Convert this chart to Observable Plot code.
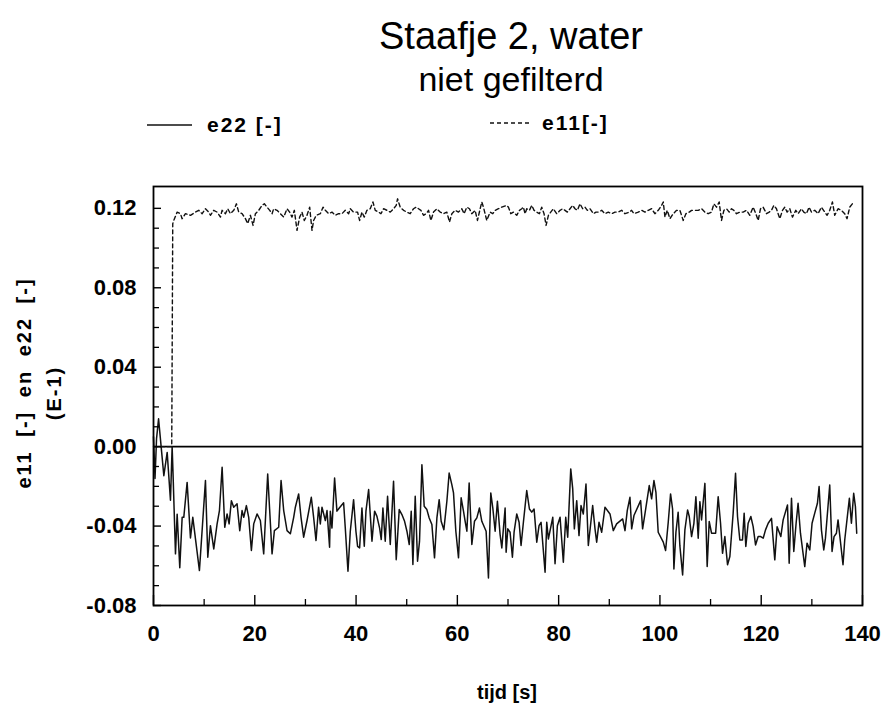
<!DOCTYPE html>
<html><head><meta charset="utf-8">
<script src="https://cdn.jsdelivr.net/npm/d3@7"></script>
<script src="https://cdn.jsdelivr.net/npm/@observablehq/plot@0.6"></script>
<style>
body{margin:0;background:#fff;}
#wrap{position:relative;width:886px;height:706px;font-family:"Liberation Sans",Arial,Helvetica,sans-serif;color:#000;overflow:hidden;}
.t{position:absolute;white-space:nowrap;line-height:1;}
#wrap svg{position:absolute;left:0;top:0;}
</style></head><body><div id="wrap"></div>
<script>
// ---- chart texts ----
const titleText = "Staafje 2, water";
const subtitleText = "niet gefilterd";
const seriesNames = ["e22 [-]", "e11[-]"];
const yLabelLine1 = "e11 [-] en e22 [-]";
const yLabelLine2 = "(E-1)";
const xLabel = "tijd [s]";

// ---- tick values ----
const yTickLabels = [-0.08, -0.04, 0.00, 0.04, 0.08, 0.12];
const yMinorTicks = [-0.07, -0.06, -0.05, -0.03, -0.02, -0.01, 0.01, 0.02, 0.03, 0.05, 0.06, 0.07, 0.09, 0.10, 0.11];
const xTickLabels = [0, 20, 40, 60, 80, 100, 120, 140];
const xMinorTicks = [10, 30, 50, 70, 90, 110, 130];

// ---- series e22 (solid) ----
const e22Time = [0.00,0.30,0.60,1.00,2.04,2.70,3.35,3.68,3.88,4.34,4.67,5.19,5.66,5.98,6.64,7.30,7.76,9.07,10.26,10.72,11.24,11.90,12.56,13.02,13.55,14.07,14.53,14.93,15.38,15.84,16.50,17.03,17.49,17.82,18.34,18.80,19.33,19.79,20.45,21.10,21.76,22.55,23.41,23.87,24.72,25.19,25.71,26.37,27.02,27.68,28.01,28.66,29.13,29.65,30.32,31.16,31.62,32.09,32.60,32.94,33.27,33.93,34.26,34.77,
34.91,35.24,35.76,36.22,36.69,37.54,37.87,38.40,38.86,39.51,39.97,40.30,40.70,41.16,41.62,41.95,42.48,43.14,43.66,44.12,44.65,44.97,45.30,45.76,46.22,46.75,47.40,47.93,48.52,49.05,49.58,50.04,50.50,50.89,51.22,51.68,52.14,52.53,53.00,53.45,53.98,54.44,54.97,55.49,55.96,56.41,56.80,57.34,57.93,58.38,58.91,59.24,59.70,60.23,60.75,61.21,61.54,61.88,62.33,62.86,63.38,63.85,64.36,64.83,65.68,66.14,66.60,67.00,67.46,67.91,68.44,68.78,69.43,
69.63,69.96,70.41,70.87,71.20,71.73,72.19,72.58,73.04,73.70,74.23,74.69,75.15,75.68,76.13,76.53,77.32,77.65,77.97,78.84,79.29,79.75,80.28,80.93,81.40,81.79,82.39,82.78,83.10,83.57,84.02,84.42,84.87,85.40,85.86,86.72,87.18,87.51,87.97,88.50,89.15,90.14,90.79,91.45,92.64,93.10,93.55,94.08,94.42,94.87,96.19,96.58,97.04,97.89,98.36,98.82,99.21,99.66,100.66,101.12,101.64,102.10,102.50,102.76,103.16,103.60,103.94,104.48,
104.93,105.46,105.79,106.25,106.71,107.10,107.56,107.89,108.22,108.88,109.33,109.73,110.19,111.00,111.50,111.97,112.36,112.82,113.35,113.81,114.46,114.93,115.32,115.78,116.30,116.63,116.96,117.42,117.95,118.41,118.88,119.40,119.90,120.39,120.85,121.38,122.03,122.68,123.14,123.87,124.33,125.19,125.52,125.98,126.43,126.89,127.28,127.75,128.60,129.05,129.59,130.04,130.57,131.10,131.43,131.89,132.35,132.68,133.53,133.99,134.38,134.85,135.17,136.15,136.49,137.41,137.81,138.26,138.60,138.86];
const e22Value = [0.0050,-0.0160,0.0040,0.0140,-0.0146,-0.0029,-0.0270,0.0000,-0.0154,-0.0540,-0.0340,-0.0610,-0.0356,-0.0356,-0.0180,-0.0460,-0.0356,-0.0624,-0.0171,-0.0557,-0.0398,-0.0515,-0.0389,-0.0322,-0.0104,-0.0406,-0.0339,-0.0389,-0.0272,-0.0305,-0.0288,-0.0423,-0.0322,-0.0356,-0.0297,-0.0356,-0.0523,-0.0389,-0.0339,-0.0372,-0.0540,-0.0138,-0.0540,-0.0423,-0.0406,-0.0171,-0.0322,-0.0423,-0.0439,-0.0356,-0.0305,-0.0238,-0.0356,-0.0456,-0.0372,-0.0255,-0.0356,-0.0473,-0.0305,-0.0389,-0.0305,-0.0372,-0.0322,-0.0507,
-0.0325,-0.0410,-0.0158,-0.0325,-0.0309,-0.0283,-0.0410,-0.0627,-0.0426,-0.0267,-0.0426,-0.0502,-0.0510,-0.0309,-0.0502,-0.0325,-0.0216,-0.0476,-0.0325,-0.0351,-0.0410,-0.0468,-0.0309,-0.0476,-0.0250,-0.0493,-0.0174,-0.0569,-0.0317,-0.0342,-0.0376,-0.0426,-0.0493,-0.0325,-0.0594,-0.0250,-0.0577,-0.0476,-0.0091,-0.0300,-0.0317,-0.0359,-0.0392,-0.0560,-0.0359,-0.0267,-0.0376,-0.0418,-0.0275,-0.0133,-0.0191,-0.0233,-0.0426,-0.0560,-0.0258,-0.0325,-0.0376,-0.0426,-0.0183,-0.0493,-0.0376,-0.0359,-0.0309,-0.0376,-0.0426,-0.0661,-0.0233,-0.0309,-0.0426,-0.0275,-0.0443,-0.0510,-0.0309,
-0.0532,-0.0414,-0.0431,-0.0557,-0.0431,-0.0339,-0.0381,-0.0498,-0.0381,-0.0221,-0.0314,-0.0330,-0.0314,-0.0481,-0.0398,-0.0381,-0.0632,-0.0381,-0.0465,-0.0356,-0.0590,-0.0398,-0.0356,-0.0582,-0.0356,-0.0456,-0.0112,-0.0213,-0.0414,-0.0272,-0.0448,-0.0297,-0.0339,-0.0188,-0.0498,-0.0297,-0.0414,-0.0481,-0.0381,-0.0431,-0.0305,-0.0339,-0.0423,-0.0389,-0.0364,-0.0423,-0.0322,-0.0255,-0.0414,-0.0347,-0.0272,-0.0414,-0.0339,-0.0196,-0.0263,-0.0171,-0.0230,-0.0431,-0.0481,-0.0523,-0.0381,-0.0238,-0.0314,-0.0616,-0.0431,-0.0330,-0.0500,-0.0646,
-0.0419,-0.0319,-0.0352,-0.0453,-0.0386,-0.0252,-0.0461,-0.0277,-0.0369,-0.0185,-0.0604,-0.0377,-0.0436,-0.0436,-0.0252,-0.0386,-0.0537,-0.0453,-0.0595,-0.0553,-0.0335,-0.0134,-0.0352,-0.0470,-0.0470,-0.0335,-0.0503,-0.0386,-0.0352,-0.0403,-0.0495,-0.0453,-0.0453,-0.0461,-0.0419,-0.0386,-0.0361,-0.0570,-0.0403,-0.0453,-0.0369,-0.0294,-0.0587,-0.0260,-0.0528,-0.0386,-0.0285,-0.0436,-0.0604,-0.0486,-0.0520,-0.0386,-0.0335,-0.0285,-0.0201,-0.0419,-0.0520,-0.0461,-0.0193,-0.0528,-0.0453,-0.0436,-0.0369,-0.0595,-0.0470,-0.0260,-0.0386,-0.0235,-0.0302,-0.0436];

// ---- series e11 (dashed) ----
const e11Time = [0.00,3.60,3.80,4.01,4.67,5.33,5.65,6.31,7.30,8.28,8.94,9.60,10.26,10.91,11.24,11.90,12.56,13.22,13.54,14.20,14.66,15.19,15.85,16.37,16.83,17.49,18.15,18.61,19.13,19.66,20.12,20.78,21.43,21.89,22.42,22.95,23.41,23.73,24.39,25.05,25.71,26.36,26.89,27.35,27.81,28.34,28.86,29.32,29.78,30.31,30.84,31.30,31.62,32.15,32.94,33.47,33.93,34.58,35.24,35.90,36.56,37.21,37.87,38.53,38.86,39.51,40.30,40.70,41.16,41.62,42.14,42.80,43.33,43.79,44.45,44.91,45.43,46.09,46.75,47.40,47.93,48.19,48.72,49.38,50.03,50.69,51.35,51.88,52.33,52.80,53.32,53.85,54.31,54.77,55.29,55.95,56.61,57.27,57.92,58.45,58.91,59.57,60.22,60.88,61.34,61.87,62.39,62.85,63.51,63.97,64.50,64.83,65.15,65.81,66.47,67.00,67.46,68.11,68.77,69.76,
70.09,70.55,71.07,71.73,72.26,72.72,73.04,73.37,73.70,74.23,74.69,75.15,75.67,76.20,76.66,77.12,77.52,77.98,78.44,78.96,79.62,80.28,80.80,81.26,81.72,82.25,82.77,83.23,83.70,84.22,84.75,85.21,85.67,86.19,86.85,87.38,87.84,88.50,89.15,89.81,90.47,91.12,91.78,92.44,93.10,93.95,94.41,94.87,95.73,96.38,97.04,97.70,98.36,99.01,99.67,100.33,100.66,100.99,101.45,101.97,102.63,103.29,103.95,104.60,105.13,105.79,106.25,106.90,107.56,108.22,108.88,109.53,110.19,110.65,111.18,111.70,112.16,112.63,113.15,113.68,114.14,114.60,115.12,115.78,116.44,117.10,117.75,118.41,118.94,119.40,119.86,120.38,121.04,121.57,122.03,122.49,123.01,123.67,124.20,124.66,125.12,125.64,126.17,126.83,127.29,127.94,128.40,128.93,129.46,129.92,130.57,131.23,131.89,132.55,133.01,133.53,134.06,134.52,135.18,135.83,136.49,136.95,137.48,138.00];
const e11Value = [0.0000,0.0000,0.1123,0.1139,0.1181,0.1173,0.1148,0.1173,0.1165,0.1181,0.1190,0.1173,0.1198,0.1181,0.1165,0.1190,0.1181,0.1156,0.1190,0.1173,0.1198,0.1173,0.1190,0.1223,0.1181,0.1173,0.1148,0.1123,0.1165,0.1114,0.1173,0.1190,0.1215,0.1223,0.1206,0.1190,0.1173,0.1198,0.1190,0.1173,0.1156,0.1198,0.1181,0.1156,0.1190,0.1089,0.1156,0.1181,0.1139,0.1165,0.1206,0.1089,0.1139,0.1165,0.1173,0.1206,0.1190,0.1173,0.1181,0.1165,0.1173,0.1173,0.1190,0.1173,0.1198,0.1181,0.1181,0.1139,0.1181,0.1156,0.1190,0.1198,0.1232,0.1190,0.1181,0.1173,0.1198,0.1190,0.1181,0.1198,0.1215,0.1248,0.1206,0.1190,0.1181,0.1173,0.1198,0.1206,0.1198,0.1190,0.1165,0.1173,0.1190,0.1139,0.1181,0.1198,0.1181,0.1173,0.1181,0.1131,0.1173,0.1190,0.1181,0.1198,0.1173,0.1206,0.1198,0.1173,0.1190,0.1139,0.1198,0.1232,0.1206,0.1139,0.1181,0.1173,0.1190,0.1198,0.1206,0.1215,
0.1206,0.1173,0.1181,0.1165,0.1190,0.1198,0.1206,0.1173,0.1198,0.1190,0.1215,0.1190,0.1181,0.1173,0.1206,0.1173,0.1114,0.1165,0.1181,0.1198,0.1173,0.1190,0.1198,0.1190,0.1181,0.1198,0.1215,0.1198,0.1190,0.1223,0.1198,0.1206,0.1190,0.1198,0.1173,0.1181,0.1181,0.1190,0.1173,0.1181,0.1173,0.1181,0.1181,0.1190,0.1173,0.1181,0.1190,0.1173,0.1181,0.1190,0.1181,0.1190,0.1198,0.1173,0.1190,0.1215,0.1232,0.1156,0.1190,0.1148,0.1173,0.1190,0.1190,0.1139,0.1173,0.1181,0.1190,0.1190,0.1190,0.1198,0.1181,0.1173,0.1181,0.1223,0.1206,0.1232,0.1139,0.1190,0.1198,0.1181,0.1198,0.1190,0.1173,0.1181,0.1181,0.1190,0.1165,0.1206,0.1173,0.1139,0.1198,0.1206,0.1173,0.1181,0.1190,0.1215,0.1198,0.1148,0.1190,0.1206,0.1181,0.1198,0.1156,0.1190,0.1173,0.1198,0.1181,0.1173,0.1206,0.1181,0.1190,0.1173,0.1206,0.1181,0.1165,0.1190,0.1232,0.1165,0.1198,0.1190,0.1173,0.1148,0.1206,0.1223];

const e22Rows = e22Time.map((t, i) => ({t, v: e22Value[i]}));
const e11Rows = e11Time.map((t, i) => ({t, v: e11Value[i]}));

// ---- layout ----
const W = 886, H = 706;
const mL = 153, mR = 24, mT = 186, mB = 101;
const innerW = W - mL - mR, innerH = H - mT - mB;
const font = '"Liberation Sans", Arial, Helvetica, sans-serif';

const chart = Plot.plot({
  width: W, height: H,
  marginLeft: mL, marginRight: mR, marginTop: mT, marginBottom: mB,
  style: {fontFamily: font, fontSize: "22px", fontWeight: "bold", color: "#000", background: "transparent", overflow: "visible"},
  x: {domain: [0, 140]},
  y: {domain: [-0.08, 0.131]},
  marks: [
    Plot.ruleY([0], {stroke: "#000", strokeWidth: 1.7}),
    Plot.line(e22Rows, {x: "t", y: "v", stroke: "#111", strokeWidth: 1.5, strokeLinejoin: "round"}),
    Plot.line(e11Rows, {x: "t", y: "v", stroke: "#111", strokeWidth: 1.4, strokeDasharray: "4,3"}),
    Plot.frame({stroke: "#000", strokeWidth: 1.8}),
    // inward ticks on the left axis
    Plot.tickY(yTickLabels, {y: d => d, stroke: "#000", strokeWidth: 1.4, insetRight: innerW - 8}),
    Plot.tickY(yMinorTicks, {y: d => d, stroke: "#000", strokeWidth: 1.3, insetRight: innerW - 6}),
    // inward ticks on the bottom axis
    Plot.tickX(xTickLabels, {x: d => d, stroke: "#000", strokeWidth: 1.4, insetTop: innerH - 10}),
    Plot.tickX(xMinorTicks, {x: d => d, stroke: "#000", strokeWidth: 1.3, insetTop: innerH - 6}),
    Plot.axisY(yTickLabels, {tickSize: 0, tickPadding: 17, tickFormat: d => d.toFixed(2), label: null, fontSize: 22, fontWeight: "bold"}),
    Plot.axisX(xTickLabels, {tickSize: 0, tickPadding: 20, tickFormat: d => String(d), label: null, fontSize: 22, fontWeight: "bold"})
  ]
});

const wrap = document.getElementById("wrap");
wrap.appendChild(chart);

function addText(txt, css) {
  const d = document.createElement("div");
  d.className = "t";
  d.textContent = txt;
  Object.assign(d.style, css);
  wrap.appendChild(d);
  return d;
}
// title & subtitle
addText(titleText, {left: "511px", top: "17px", fontSize: "38px", transform: "translateX(-50%)"});
addText(subtitleText, {left: "511px", top: "62px", fontSize: "34px", transform: "translateX(-50%)"});

// legend
function legendSample(x, y, w, dash) {
  const ns = "http://www.w3.org/2000/svg";
  const s = document.createElementNS(ns, "svg");
  s.setAttribute("width", w); s.setAttribute("height", 4);
  s.style.position = "absolute"; s.style.left = x + "px"; s.style.top = (y - 2) + "px";
  const l = document.createElementNS(ns, "line");
  l.setAttribute("x1", 0); l.setAttribute("x2", w); l.setAttribute("y1", 2); l.setAttribute("y2", 2);
  l.setAttribute("stroke", "#111"); l.setAttribute("stroke-width", 1.3);
  if (dash) l.setAttribute("stroke-dasharray", dash);
  s.appendChild(l);
  wrap.appendChild(s);
}
legendSample(147, 125, 45, null);
addText(seriesNames[0], {left: "207px", top: "114px", fontSize: "21px", fontWeight: "bold", letterSpacing: "2px"});
legendSample(490, 123, 40, "4,3");
addText(seriesNames[1], {left: "542px", top: "112px", fontSize: "21px", fontWeight: "bold", letterSpacing: "2px"});

// y-axis label (two rotated lines)
addText(yLabelLine1, {left: "24px", top: "383px", fontSize: "20px", fontWeight: "bold", letterSpacing: "2px", wordSpacing: "6px", transform: "translate(-50%,-50%) rotate(-90deg)"});
addText(yLabelLine2, {left: "54px", top: "393px", fontSize: "20px", fontWeight: "bold", letterSpacing: "2px", transform: "translate(-50%,-50%) rotate(-90deg)"});

// x-axis label
addText(xLabel, {left: "507px", top: "682px", fontSize: "20px", fontWeight: "bold", transform: "translateX(-50%)"});
</script>
</body></html>
